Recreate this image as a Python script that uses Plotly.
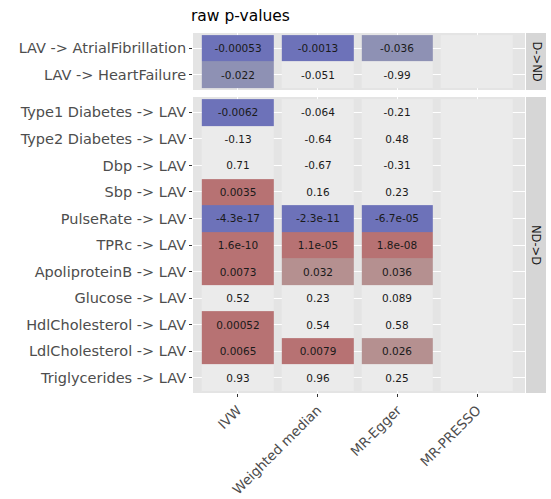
import plotly.graph_objects as go

methods = ["IVW", "Weighted median", "MR-Egger", "MR-PRESSO"]

top_rows = ["LAV -> AtrialFibrillation", "LAV -> HeartFailure"]
top_ivw = [-0.00053, -0.022]
top_wm = [-0.0013, -0.051]
top_egger = [-0.036, -0.99]
top_presso = [None, None]

bot_rows = ["Type1 Diabetes -> LAV", "Type2 Diabetes -> LAV", "Dbp -> LAV", "Sbp -> LAV",
            "PulseRate -> LAV", "TPRc -> LAV", "ApoliproteinB -> LAV", "Glucose -> LAV",
            "HdlCholesterol -> LAV", "LdlCholesterol -> LAV", "Triglycerides -> LAV"]
bot_ivw = [-0.0062, -0.13, 0.71, 0.0035, -4.3e-17, 1.6e-10, 0.0073, 0.52, 0.00052, 0.0065, 0.93]
bot_wm = [-0.064, -0.64, -0.67, 0.16, -2.3e-11, 1.1e-05, 0.032, 0.23, 0.54, 0.0079, 0.96]
bot_egger = [-0.21, 0.48, -0.31, 0.23, -6.7e-05, 1.8e-08, 0.036, 0.089, 0.58, 0.026, 0.25]
bot_presso = [None] * 11

panel_labels = ["D->ND", "ND->D"]

# fill categories: 0 ns / NA, 1 neg p<0.01, 2 neg p<0.05, 3 pos p<0.01, 4 pos p<0.05
cat_colors = ["#EBEBEB", "#6D72B9", "#8E91B4", "#B77273", "#B59090"]


def cat(v):
    if v is None:
        return 0
    p = abs(v)
    if p < 0.01:
        return 1 if v < 0 else 3
    if p < 0.05:
        return 2 if v < 0 else 4
    return 0


def lab(v):
    return "" if v is None else "{:.2g}".format(v)


def build(cols):
    n = len(cols[0])
    z = [[cat(c[i]) for c in cols] for i in range(n)]
    t = [[lab(c[i]) for c in cols] for i in range(n)]
    return z, t


cs = []
k = len(cat_colors)
for i, c in enumerate(cat_colors):
    cs.append([i / k, c])
    cs.append([(i + 1) / k, c])

z1, t1 = build([top_ivw, top_wm, top_egger, top_presso])
z2, t2 = build([bot_ivw, bot_wm, bot_egger, bot_presso])

fig = go.Figure()
common = dict(colorscale=cs, zmin=-0.5, zmax=k - 0.5, showscale=False, xgap=8, ygap=0,
              texttemplate="%{text}", textfont=dict(family="DejaVu Sans", size=10.5, color="#1a1a1a"),
              hoverinfo="skip")
fig.add_trace(go.Heatmap(z=z1, x=methods, y=top_rows, text=t1, xaxis="x", yaxis="y", **common))
fig.add_trace(go.Heatmap(z=z2, x=methods, y=bot_rows, text=t2, xaxis="x2", yaxis="y2", **common))

W, H = 551, 499
L, R, T, B = 193, 26, 33, 106
ph = H - T - B
top_h, gap = 57, 7
d_top = [1 - top_h / ph, 1]
d_bot = [0, (ph - top_h - gap) / ph]

font = dict(family="DejaVu Sans", size=14.5, color="#4D4D4D")
xfont = dict(family="DejaVu Sans", size=13.5, color="#4D4D4D")
xcommon = dict(type="category", categoryorder="array", categoryarray=methods,
               range=[-0.56, 3.6], showgrid=True, gridcolor="white", gridwidth=1,
               zeroline=False, showline=False, automargin=False)
ycommon = dict(type="category", showgrid=True, gridcolor="white", gridwidth=1, zeroline=False,
               ticks="outside", ticklen=3, tickcolor="#333333", tickfont=font, showline=False,
               automargin=False)

e = 0.08
fig.update_layout(
    width=W, height=H, margin=dict(l=L, r=R, t=T, b=B, autoexpand=False),
    paper_bgcolor="white", plot_bgcolor="#E4E4E4",
    font=dict(family="DejaVu Sans"),
    title=dict(text="raw p-values", x=191 / W, xanchor="left", y=1 - 16 / H, yanchor="middle",
               font=dict(family="DejaVu Sans", size=15.5, color="black")),
    xaxis=dict(anchor="y", showticklabels=False, ticks="", **xcommon),
    xaxis2=dict(anchor="y2", matches="x", ticks="outside", ticklen=3, tickcolor="#333333",
                tickangle=-45, tickfont=xfont, **xcommon),
    yaxis=dict(domain=d_top, anchor="x", categoryorder="array", categoryarray=top_rows,
               range=[len(top_rows) - 1 + 0.5 + e, -0.5 - e], **ycommon),
    yaxis2=dict(domain=d_bot, anchor="x2", categoryorder="array", categoryarray=bot_rows,
                range=[len(bot_rows) - 1 + 0.5 + e, -0.5 - e], **ycommon),
)

pw = W - L - R
sx0, sx1 = 1.0 + 1 / pw, 1.0 + 21 / pw
for dom, txt in zip([d_top, d_bot], panel_labels):
    fig.add_shape(type="rect", xref="paper", yref="paper", x0=sx0, x1=sx1, y0=dom[0], y1=dom[1],
                  fillcolor="#D6D6D6", line=dict(width=0), layer="above")
    fig.add_annotation(xref="paper", yref="paper", x=(sx0 + sx1) / 2, y=(dom[0] + dom[1]) / 2,
                       xanchor="center", yanchor="middle",
                       text=txt, textangle=90, showarrow=False,
                       font=dict(family="DejaVu Sans", size=11.5, color="#1A1A1A"))

fig.write_html("out.html")
